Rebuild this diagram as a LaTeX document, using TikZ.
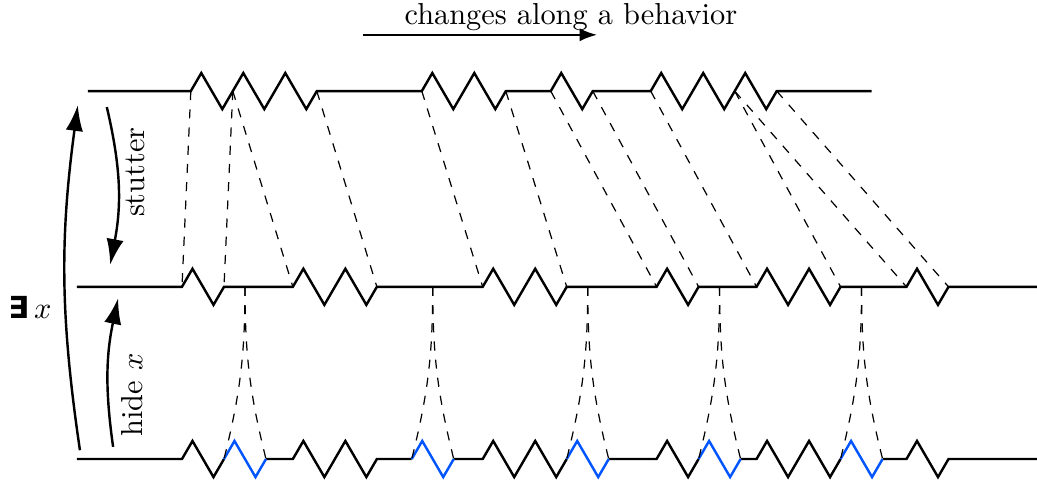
\documentclass[tikz,border=0pt]{standalone}
\usepackage{fontspec}
\usetikzlibrary{arrows.meta}
\newfontfamily\symbfont{DejaVu Sans}
\definecolor{hideblue}{RGB}{0,85,255}

% one step of a behavior: up, down, back to the line
\newcommand{\zig}[1]{foreach \k in {1,...,#1}{-- ++(.25,.43) -- ++(.5,-.86) -- ++(.25,.43)}}

\begin{document}
\begin{tikzpicture}[x=4.861mm,y=4.861mm,>=Latex,
    wave/.style={thick},
    hidden/.style={thick,draw=hideblue},
    map/.style={dashed,thin},
    move/.style={thick,-{Latex[length=3mm,width=2mm]}}]
  \useasboundingbox (-1.833,-0.5) rectangle (22.857,10.929);

  % top behavior
  \draw[wave] (0.26,8.76) -- (2.71,8.76) coordinate (t1) \zig{1} coordinate (t1a) \zig{2} coordinate (t2)
    -- ++(2.5,0) coordinate (t3) \zig{2} coordinate (t4)
    -- ++(1.07,0) coordinate (t5) \zig{1} coordinate (t6)
    -- ++(1.38,0) coordinate (t7) \zig{2} coordinate (t7a) \zig{1} coordinate (t8)
    -- ++(2.26,0);

  % stuttered behavior
  \draw[wave] (0,4.1) -- (2.5,4.1) coordinate (m1) \zig{1} coordinate (m2)
    -- ++(0.5,0) coordinate (h1) -- ++(1.14,0) coordinate (m3) \zig{2} coordinate (m4)
    -- ++(1.33,0) coordinate (h2) -- ++(1.19,0) coordinate (m5) \zig{2} coordinate (m6)
    -- ++(0.5,0) coordinate (h3) -- ++(1.64,0) coordinate (m7) \zig{1} coordinate (m8)
    -- ++(0.5,0) coordinate (h4) -- ++(0.88,0) coordinate (m9) \zig{2} coordinate (m10)
    -- ++(0.5,0) coordinate (h5) -- ++(1.07,0) coordinate (m11) \zig{1} coordinate (m12)
    -- (22.857,4.1);

  % behavior with x visible
  \draw[wave] (0,0) -- (2.5,0) \zig{1} coordinate (s1) ++(1,0) coordinate (e1)
    -- ++(0.64,0) \zig{2} -- ++(0.83,0) coordinate (s2) ++(1,0) coordinate (e2)
    -- ++(0.69,0) \zig{2} coordinate (s3) ++(1,0) coordinate (e3)
    -- ++(1.14,0) \zig{1} coordinate (s4) ++(1,0) coordinate (e4)
    -- ++(0.38,0) \zig{2} coordinate (s5) ++(1,0) coordinate (e5)
    -- ++(0.57,0) \zig{1} -- (22.857,0);
  \foreach \i in {1,...,5}
    \draw[hidden] (s\i) \zig{1};

  % step correspondences
  \foreach \a/\b in {t1/m1,t1a/m2,t1a/m3,t2/m4,t3/m5,t4/m6,t5/m7,t6/m8,t7/m9,t7a/m10,t7a/m11,t8/m12}
    \draw[map] (\a) -- (\b);
  \foreach \i in {1,...,5} {
    \draw[map] (h\i) to[out=-90,in=76] (s\i);
    \draw[map] (h\i) to[out=-90,in=104] (e\i);
  }

  % operations
  \coordinate (ex0) at (0.07,0.21);
  \coordinate (ex1) at (0.02,8.43);
  \coordinate (st0) at (0.71,8.38);
  \coordinate (st1) at (0.79,4.62);
  \coordinate (hd0) at (0.86,0.29);
  \coordinate (hd1) at (0.98,3.83);
  \draw[move] (ex0) to[bend left=8] (ex1);
  \draw[move] (st0) to[bend left=12] (st1);
  \draw[move] (hd0) to[bend left=10] (hd1);
  \node (exlabel) at (-1.12,3.6) {{\symbfont\bfseries ∃}\,$x$};
  \node[rotate=90] (stlabel) at (1.38,6.83) {stutter};
  \node[rotate=90] (hdlabel) at (1.31,1.52) {hide $x$};

  % direction of time
  \coordinate (dir0) at (6.81,10.1);
  \coordinate (dir1) at (12.38,10.1);
  \draw[->,semithick] (dir0) -- (dir1);
  \node (title) at (11.76,10.52) {changes along a behavior};
\end{tikzpicture}
\end{document}
